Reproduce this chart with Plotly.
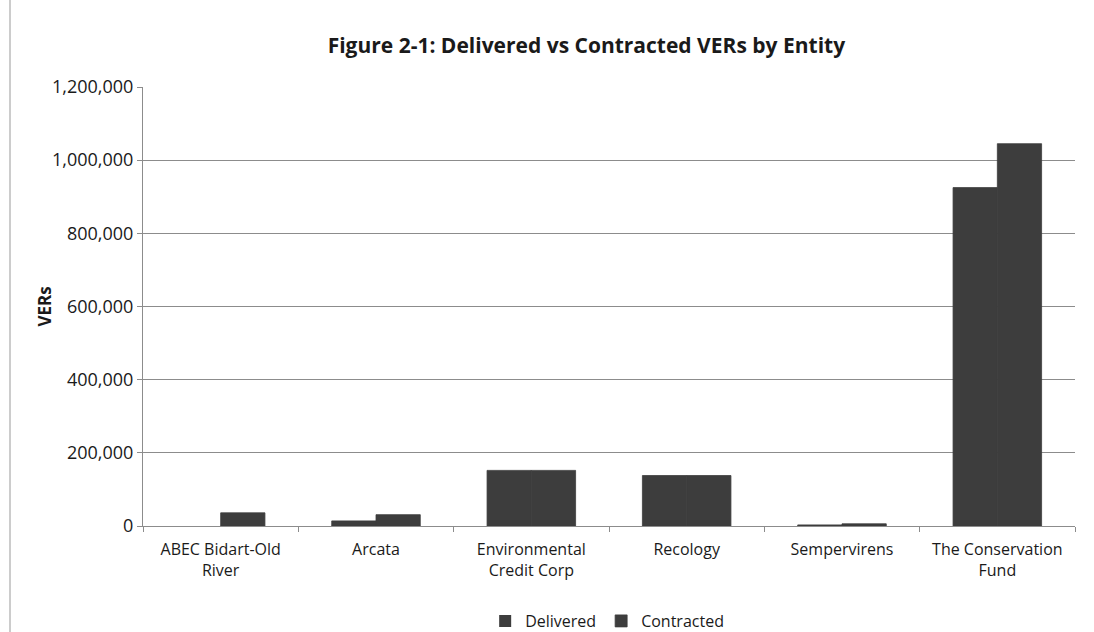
import plotly.graph_objects as go

categories = ["ABEC Bidart-Old<br>River", "Arcata", "Environmental<br>Credit Corp",
              "Recology", "Sempervirens", "The Conservation<br>Fund"]
delivered = [0, 14000, 152000, 138000, 3000, 925000]
contracted = [36000, 31000, 152000, 138000, 6000, 1045000]
y_ticks = [0, 200000, 400000, 600000, 800000, 1000000, 1200000]
y_tick_labels = ["0", "200,000", "400,000", "600,000", "800,000", "1,000,000", "1,200,000"]

bar_color = "#3d3d3d"
font_family = "Open Sans, Noto Sans, sans-serif"


def edge_widths(values):
    return [0 if v == 0 else 0.8 for v in values]


fig = go.Figure()
fig.add_trace(go.Bar(name="Delivered", x=categories, y=delivered,
                     marker=dict(color=bar_color,
                                 line=dict(color=bar_color, width=edge_widths(delivered)))))
fig.add_trace(go.Bar(name="Contracted", x=categories, y=contracted,
                     marker=dict(color=bar_color,
                                 line=dict(color=bar_color, width=edge_widths(contracted)))))

fig.update_layout(
    width=1094, height=632,
    margin=dict(l=143, r=19, t=87, b=106),
    paper_bgcolor="white", plot_bgcolor="white",
    barmode="group", bargap=0.43, bargroupgap=0,
    font=dict(family=font_family, size=15, color="#1a1a1a"),
    title=dict(text="<b>Figure 2-1: Delivered vs Contracted VERs by Entity</b>",
               x=0.536, xref="container", xanchor="center",
               y=0.928, yref="container", yanchor="middle",
               font=dict(size=21, color="#1a1a1a")),
    legend=dict(orientation="h", x=0.555, xanchor="center", xref="container",
                y=0.0174, yref="container", yanchor="middle",
                font=dict(size=16), itemwidth=30, tracegroupgap=0),
    showlegend=True,
)
fig.update_xaxes(
    showline=True, linecolor="#8c8c8c", linewidth=1,
    ticks="outside", tickson="boundaries", ticklen=5, tickcolor="#8c8c8c",
    tickfont=dict(size=16), showgrid=False, ticklabelstandoff=9,
)
fig.update_yaxes(
    range=[0, 1200000], tickvals=y_ticks, ticktext=y_tick_labels,
    showline=True, linecolor="#8c8c8c", linewidth=1,
    ticks="outside", ticklen=5, tickcolor="#8c8c8c",
    showgrid=True, gridcolor="#8c8c8c", gridwidth=1,
    zeroline=False, tickfont=dict(size=18),
)
# y-axis title placed like the original
fig.add_annotation(text="<b>VERs</b>", xref="paper", yref="paper",
                   x=(44 - 143) / 932, y=0.5, textangle=-90, showarrow=False,
                   xanchor="center", yanchor="middle", font=dict(size=17))
# left page border line from the scanned document
fig.add_shape(type="line", xref="paper", yref="paper",
              x0=(10 - 143) / 932, x1=(10 - 143) / 932, y0=-0.25, y1=1.2,
              line=dict(color="#999999", width=1))

fig.write_html("out.html", config={"displayModeBar": False},
               post_script="document.body.style.margin='0';document.body.style.overflow='hidden';")
